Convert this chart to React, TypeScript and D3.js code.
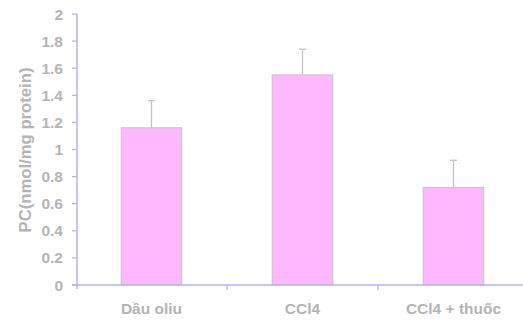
import React from "react";
import * as d3 from "d3";

const categories = ["Dầu oliu", "CCl4", "CCl4 + thuốc"];
const means = [1.16, 1.55, 0.72];
const errors = [0.2, 0.19, 0.2];
const yTicks = [0, 0.2, 0.4, 0.6, 0.8, 1, 1.2, 1.4, 1.6, 1.8, 2];
const yLabel = "PC(nmol/mg protein)";

const W = 523;
const H = 322;
const left = 77;
const step = 151;
const textColor = "#b4b4b4";
const axisColor = "#b3b3ff";
const fontSize = 15.5;

export default function App() {
  const x = d3
    .scaleBand<string>()
    .domain(categories)
    .range([left - 1, left - 1 + step * categories.length])
    .paddingInner(0.6)
    .paddingOuter(0.3);
  const y = d3.scaleLinear().domain([0, 2]).range([285, 14]);
  const bw = x.bandwidth();

  return (
    <svg
      width={W}
      height={H}
      style={{ position: "absolute", left: 0, top: 0 }}
      fontFamily="Liberation Sans, Arial, sans-serif"
    >
      <rect width={W} height={H} fill="#fff" />
      {/* bars with error bars */}
      {categories.map((c, i) => {
        const x0 = x(c)!;
        const cx = x0 + bw / 2;
        return (
          <g key={c}>
            <line x1={cx} x2={cx} y1={y(means[i])} y2={y(means[i] + errors[i])} stroke="#c4c4c4" strokeWidth={1.3} />
            <line x1={cx - 3.5} x2={cx + 3.5} y1={y(means[i] + errors[i])} y2={y(means[i] + errors[i])} stroke="#c4c4c4" strokeWidth={1.3} />
            <rect
              x={x0}
              y={y(means[i])}
              width={bw}
              height={y(0) - y(means[i])}
              fill="#ffb8ff"
              stroke="#c8c8c8"
              strokeWidth={1.2}
            />
          </g>
        );
      })}
      {/* y axis */}
      <line x1={left} x2={left} y1={y(2)} y2={y(0) + 4} stroke={axisColor} strokeWidth={1.5} />
      {yTicks.map((t) => (
        <g key={t}>
          <line x1={left - 5} x2={left} y1={y(t)} y2={y(t)} stroke={axisColor} strokeWidth={1.3} />
          <text x={left - 14} y={y(t)} dy="0.36em" textAnchor="end" fontSize={fontSize} fontWeight="bold" fill={textColor}>
            {String(t)}
          </text>
        </g>
      ))}
      {/* x axis */}
      <line x1={left - 5} x2={W} y1={y(0)} y2={y(0)} stroke={axisColor} strokeWidth={1.5} />
      {categories.slice(1).map((c) => {
        const tx = x(c)! - (x.step() - bw) / 2;
        return <line key={c} x1={tx} x2={tx} y1={y(0)} y2={y(0) + 5} stroke={axisColor} strokeWidth={1.3} />;
      })}
      {categories.map((c) => (
        <text key={c} x={x(c)! + bw / 2} y={314} textAnchor="middle" fontSize={fontSize} fontWeight="bold" fill={textColor}>
          {c}
        </text>
      ))}
      <text
        transform={`translate(31,150) rotate(-90)`}
        textAnchor="middle"
        fontSize={16.7}
        fontWeight="bold"
        fill={textColor}
      >
        {yLabel}
      </text>
    </svg>
  );
}
